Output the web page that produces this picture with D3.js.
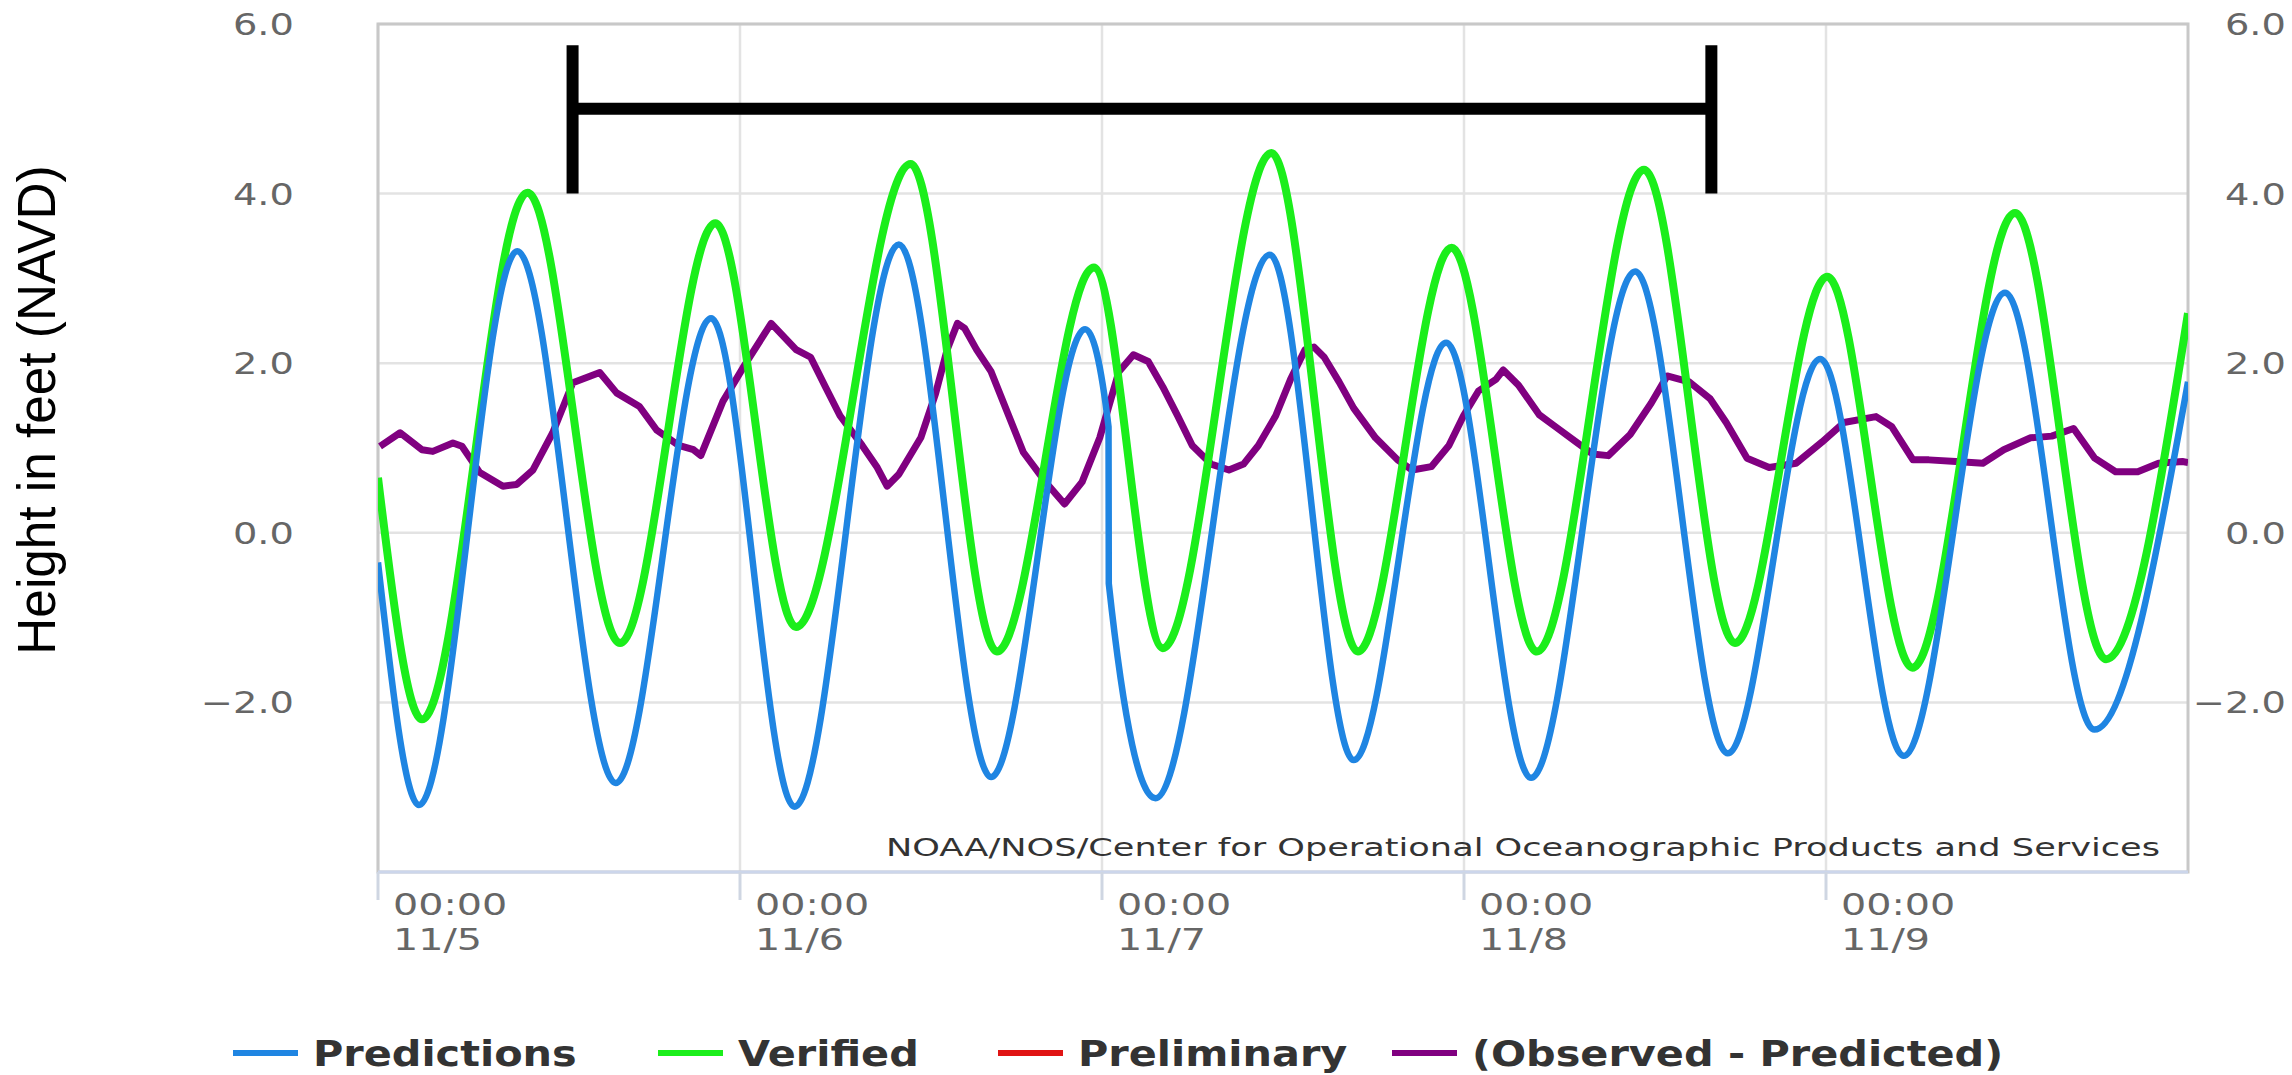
<!DOCTYPE html>
<html>
<head>
<meta charset="utf-8">
<script src="https://cdn.jsdelivr.net/npm/d3@7"></script>
<style>
  html, body { margin: 0; padding: 0; background: #ffffff; }
  svg { display: block; }
</style>
</head>
<body>
<svg id="chart" width="2292" height="1075"></svg>
<script>
// ---------------- data (hours after 11/5 00:00, feet NAVD) ----------------
const startDate = new Date(2018, 10, 5, 0, 0);
const endHours = 120;

const dayTicks = [0, 24, 48, 72, 96];
const dayTickTimes = ["00:00", "00:00", "00:00", "00:00", "00:00"];
const dayTickDates = ["11/5", "11/6", "11/7", "11/8", "11/9"];

const yTicks = [6, 4, 2, 0, -2];
const yTickLabels = ["6.0", "4.0", "2.0", "0.0", "\u22122.0"];

const predHours  = [0, 2.72, 9.24, 15.76, 22.08, 27.62, 34.53, 40.65, 46.88, 48.43, 48.45, 51.55, 59.13, 64.68, 70.81, 76.45, 83.35, 89.48, 95.61, 101.15, 107.86, 113.79, 120];
const predValues = [-0.35, -3.21, 3.32, -2.95, 2.53, -3.23, 3.40, -2.88, 2.40, 1.25, -0.60, -3.13, 3.28, -2.68, 2.24, -2.89, 3.08, -2.60, 2.05, -2.63, 2.83, -2.32, 1.78];

const verHours  = [0, 2.92, 9.92, 16.05, 22.37, 27.72, 35.31, 41.04, 47.46, 52.03, 59.23, 64.97, 71.19, 76.84, 83.94, 89.97, 96.09, 101.73, 108.54, 114.57, 120];
const verValues = [0.65, -2.20, 4.01, -1.30, 3.65, -1.11, 4.35, -1.40, 3.13, -1.36, 4.48, -1.40, 3.36, -1.40, 4.28, -1.30, 3.02, -1.59, 3.77, -1.49, 2.59];

const diffHours = [0.13,1.46,2.91,3.64,4.97,5.56,6.75,8.28,9.2,10.26,11.59,12.91,14.7,15.82,17.34,18.48,19.94,20.91,21.4,22.86,24.32,26.07,27.72,28.69,29.66,30.64,32.10,33.07,33.75,34.53,35.99,36.96,37.74,38.42,38.90,39.68,40.65,41.82,42.79,44.25,45.52,46.68,47.85,49.12,50.09,51.06,52.03,53.01,53.98,55.24,56.41,57.38,58.36,59.52,60.50,61.47,62.05,62.73,63.71,64.68,66.14,67.60,68.57,69.83,71.00,71.97,72.95,74.11,74.6,75.61,77.0,78.06,79.45,80.51,81.57,83.02,84.41,85.47,86.93,88.32,89.38,90.77,92.23,94.01,95.74,97.19,99.31,100.37,101.76,102.82,104.61,106.40,107.79,109.57,110.96,112.42,113.81,115.20,116.66,118.05,119.64,120];
const diffValues = [1.02,1.18,0.98,0.96,1.06,1.02,0.71,0.55,0.57,0.74,1.18,1.77,1.89,1.65,1.49,1.21,1.03,0.98,0.91,1.55,1.98,2.47,2.16,2.07,1.72,1.38,1.03,0.78,0.55,0.69,1.12,1.64,2.16,2.47,2.41,2.16,1.90,1.38,0.95,0.60,0.34,0.60,1.12,1.90,2.10,2.02,1.72,1.38,1.03,0.81,0.74,0.81,1.03,1.38,1.81,2.16,2.19,2.07,1.78,1.47,1.12,0.86,0.74,0.78,1.03,1.38,1.67,1.81,1.92,1.74,1.39,1.25,1.07,0.93,0.91,1.16,1.53,1.85,1.78,1.58,1.30,0.88,0.77,0.82,1.07,1.30,1.37,1.25,0.86,0.86,0.84,0.82,0.98,1.12,1.14,1.23,0.88,0.72,0.72,0.82,0.84,0.83];

// bracket annotation (hours, feet)
const bracketStart = 12.9;
const bracketEnd = 88.4;
const bracketLevel = 5.0;
const bracketTop = 5.75;
const bracketBottom = 4.0;

const legendNames = ["Predictions", "Verified", "Preliminary", "(Observed - Predicted)"];
const legendColors = ["#1f85e2", "#1bee1b", "#e01414", "#800080"];
const watermark = "NOAA/NOS/Center for Operational Oceanographic Products and Services";
const yTitle = "Height in feet (NAVD)";

// ---------------- layout ----------------
const SX = 1.28;           // horizontal stretch of the source picture
const L = 378, R = 2188, T = 24, B = 872;
const svg = d3.select("#chart");
const toDate = h => d3.timeMinute.offset(startDate, Math.round(h * 60));

const x = d3.scaleTime().domain([startDate, toDate(endHours)]).range([L, R]);
const y = d3.scaleLinear().domain([-4, 6]).range([B, T]);

function stext(g, px, py, str, size, anchor, fill, family, weight, sx) {
  return g.append("text")
    .attr("transform", `translate(${px},${py}) scale(${sx || SX},1)`)
    .attr("text-anchor", anchor)
    .attr("font-family", family || "DejaVu Sans")
    .attr("font-size", size)
    .attr("font-weight", weight || "normal")
    .attr("fill", fill)
    .text(str);
}

// grid
const grid = svg.append("g");
grid.selectAll("line.h").data(yTicks).join("line")
  .attr("x1", L).attr("x2", R)
  .attr("y1", d => y(d)).attr("y2", d => y(d))
  .attr("stroke", "#e3e3e3").attr("stroke-width", 2.5);
grid.selectAll("line.v").data(dayTicks).join("line")
  .attr("x1", d => x(toDate(d))).attr("x2", d => x(toDate(d)))
  .attr("y1", T).attr("y2", B)
  .attr("stroke", "#e3e3e3").attr("stroke-width", 2.5);

// frame
svg.append("rect").attr("x", L).attr("y", T).attr("width", R - L).attr("height", B - T)
  .attr("fill", "none").attr("stroke", "#c8c8c8").attr("stroke-width", 3);

// x axis line + ticks
svg.append("line").attr("x1", L).attr("x2", R).attr("y1", B).attr("y2", B)
  .attr("stroke", "#ccd6eb").attr("stroke-width", 3);
svg.selectAll("line.xt").data(dayTicks).join("line")
  .attr("x1", d => x(toDate(d))).attr("x2", d => x(toDate(d)))
  .attr("y1", B).attr("y2", B + 28)
  .attr("stroke", "#cfd6e2").attr("stroke-width", 3);

// x labels
const xl = svg.append("g");
dayTicks.forEach((d, i) => {
  const px = x(toDate(d)) + 15;
  stext(xl, px, 915, dayTickTimes[i], 31, "start", "#666666");
  stext(xl, px, 950, dayTickDates[i], 31, "start", "#666666");
});

// y labels (left and right)
const yl = svg.append("g");
yTicks.forEach((d, i) => {
  stext(yl, 294, y(d) + 11, yTickLabels[i], 30, "end", "#666666");
  stext(yl, 2286, y(d) + 11, yTickLabels[i], 30, "end", "#666666");
});

// y title
svg.append("text")
  .attr("transform", `translate(55,410) scale(1,0.95) rotate(-90)`)
  .attr("text-anchor", "middle")
  .attr("font-family", "Liberation Sans")
  .attr("font-size", 54)
  .attr("fill", "#000")
  .text(yTitle);

// watermark
stext(svg, 2160, 856, watermark, 24, "end", "#333333")
  .attr("textLength", 1274 / SX).attr("lengthAdjust", "spacingAndGlyphs");

// series
svg.append("clipPath").attr("id", "plotclip").append("rect")
  .attr("x", L).attr("y", T - 10).attr("width", R - L).attr("height", B - T + 20);
const plot = svg.append("g").attr("clip-path", "url(#plotclip)");

const smooth = d3.line().x(d => x(toDate(d[0]))).y(d => y(d[1])).curve(d3.curveMonotoneX);
const jagged = d3.line().x(d => x(toDate(d[0]))).y(d => y(d[1])).curve(d3.curveLinear);

const pred = predHours.map((h, i) => [h, predValues[i]]);
const ver = verHours.map((h, i) => [h, verValues[i]]);
const diff = diffHours.map((h, i) => [h, diffValues[i]]);

plot.append("path").attr("d", jagged(diff)).attr("fill", "none")
  .attr("stroke", legendColors[3]).attr("stroke-width", 7).attr("stroke-linejoin", "round");
plot.append("path").attr("d", smooth(ver)).attr("fill", "none")
  .attr("stroke", legendColors[1]).attr("stroke-width", 8).attr("stroke-linejoin", "round");
plot.append("path").attr("d", smooth(pred)).attr("fill", "none")
  .attr("stroke", legendColors[0]).attr("stroke-width", 6.5).attr("stroke-linejoin", "round");

// bracket annotation
const br = svg.append("g").attr("stroke", "#000").attr("stroke-width", 12);
br.append("line").attr("x1", x(toDate(bracketStart))).attr("x2", x(toDate(bracketEnd)))
  .attr("y1", y(bracketLevel)).attr("y2", y(bracketLevel));
[bracketStart, bracketEnd].forEach(h => {
  br.append("line").attr("x1", x(toDate(h))).attr("x2", x(toDate(h)))
    .attr("y1", y(bracketTop)).attr("y2", y(bracketBottom));
});

// legend
const legX = [233, 658, 998, 1392];
const lg = svg.append("g");
legendNames.forEach((n, i) => {
  lg.append("line").attr("x1", legX[i]).attr("x2", legX[i] + 65)
    .attr("y1", 1053).attr("y2", 1053)
    .attr("stroke", legendColors[i]).attr("stroke-width", 6);
  stext(lg, legX[i] + 80, 1066, n, 36, "start", "#333333", "DejaVu Sans", "bold", 1.15);
});
</script>
</body>
</html>
